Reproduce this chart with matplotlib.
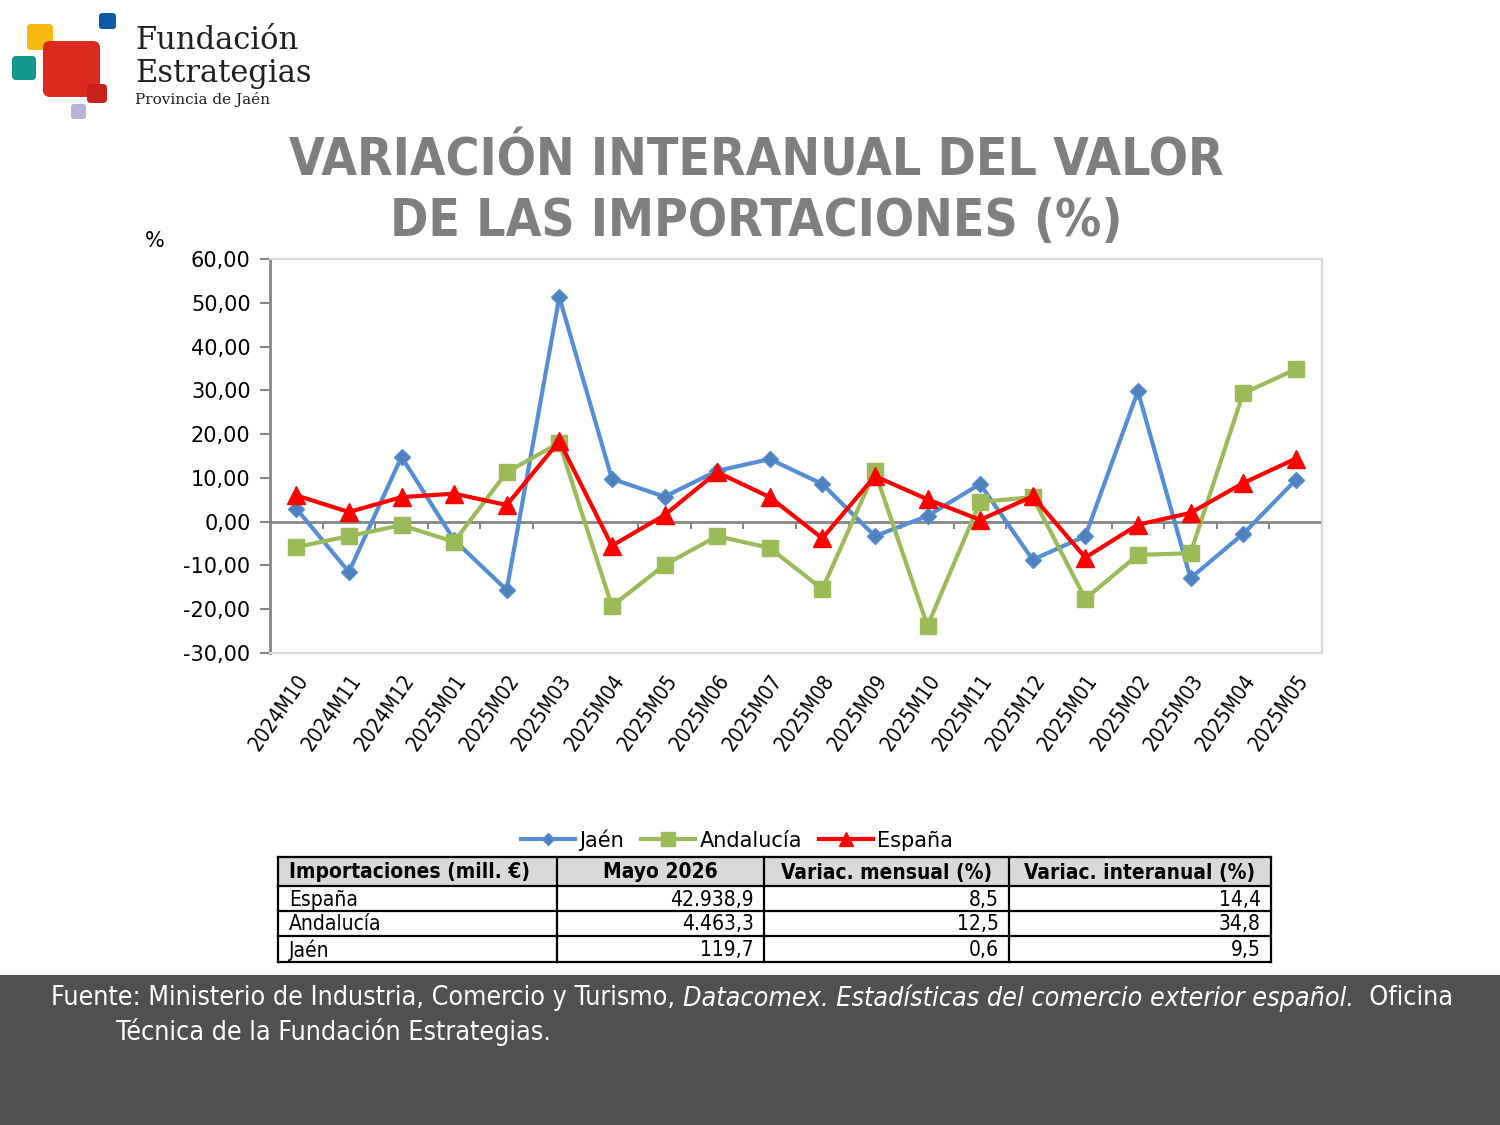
import matplotlib
matplotlib.use('Agg')
import matplotlib.pyplot as plt
from matplotlib.patches import FancyBboxPatch, Rectangle

# datos del grafico
months = ['2024M10', '2024M11', '2024M12', '2025M01', '2025M02', '2025M03', '2025M04',
          '2025M05', '2025M06', '2025M07', '2025M08', '2025M09', '2025M10', '2025M11',
          '2025M12', '2025M01', '2025M02', '2025M03', '2025M04', '2025M05']
jaen = [3.0, -11.5, 14.8, -4.2, -15.6, 51.3, 9.8, 5.7, 11.6, 14.3, 8.6, -3.3, 1.3, 8.6,
        -8.7, -3.3, 29.8, -12.9, -2.8, 9.5]
andalucia = [-5.8, -3.3, -0.8, -4.6, 11.3, 18.0, -19.3, -9.9, -3.3, -6.0, -15.4, 11.5,
             -23.8, 4.5, 5.6, -17.6, -7.6, -7.2, 29.3, 34.8]
espana = [6.0, 2.2, 5.6, 6.4, 3.8, 18.4, -5.5, 1.5, 11.3, 5.6, -3.8, 10.4, 5.1, 0.4,
          5.8, -8.2, -0.7, 2.0, 8.8, 14.4]

yticks = [-30, -20, -10, 0, 10, 20, 30, 40, 50, 60]

# tabla resumen
table_header = ['Importaciones (mill. €)', 'Mayo 2026', 'Variac. mensual (%)', 'Variac. interanual (%)']
table_names = ['España', 'Andalucía', 'Jaén']
table_mayo = ['42.938,9', '4.463,3', '119,7']
table_mensual = ['8,5', '12,5', '0,6']
table_interanual = ['14,4', '34,8', '9,5']

title_lines = ['VARIACIÓN INTERANUAL DEL VALOR', 'DE LAS IMPORTACIONES (%)']
source_parts = [('Fuente: Ministerio de Industria, Comercio y Turismo, ', 'normal'),
                ('Datacomex. Estadísticas del comercio exterior español.', 'italic'),
                ('  Oficina', 'normal')]
source_line2 = 'Técnica de la Fundación Estrategias.'

fig = plt.figure(figsize=(15, 11.25), dpi=100)

# capa de fondo en pixeles
bg = fig.add_axes([0, 0, 1, 1], zorder=0)
bg.set_xlim(0, 1500)
bg.set_ylim(1125, 0)
bg.axis('off')

# logo
def rbox(x0, y0, x1, y1, color, r=5):
    bg.add_patch(FancyBboxPatch((x0, y0), x1 - x0, y1 - y0,
                                boxstyle='round,pad=0,rounding_size=%d' % r,
                                fc=color, ec='none'))

rbox(27, 24, 53, 50, '#f6b90f', 4)
rbox(12, 56, 36, 80, '#13998d', 4)
rbox(43, 41, 100, 97, '#dc2a1f', 7)
rbox(87, 84, 107, 103, '#c9211d', 4)
rbox(99, 13, 116, 29, '#0d5aa7', 3)
rbox(71, 104, 86, 119, '#b9b3d9', 3)
bg.text(135, 49, 'Fundación', family='DejaVu Serif', fontsize=22, color='#231f20', va='baseline')
bg.text(135, 82, 'Estrategias', family='DejaVu Serif', fontsize=22, color='#231f20', va='baseline')
bg.text(135, 104, 'Provincia de Jaén', family='DejaVu Serif', fontsize=11, color='#231f20', va='baseline')

# titulo
bg.text(756, 162, title_lines[0], ha='center', va='center', fontsize=37, weight='bold',
        color='#7f7f7f', fontstretch='condensed')
bg.text(756, 222, title_lines[1], ha='center', va='center', fontsize=37, weight='bold',
        color='#7f7f7f', fontstretch='condensed')
bg.text(155, 241, '%', ha='center', va='center', fontsize=15)

# grafico
ax = fig.add_axes([270 / 1500, 1 - 653 / 1125, 1052 / 1500, 394 / 1125], zorder=2)
x = list(range(len(months)))
ax.plot(x, jaen, color='#558ed5', lw=3, marker='D', ms=8, mfc='#4f81bd', mec='#558ed5',
        label='Jaén', zorder=3)
ax.plot(x, andalucia, color='#9bbb59', lw=3, marker='s', ms=12, label='Andalucía', zorder=4)
ax.plot(x, espana, color='#ff0000', lw=3, marker='^', ms=13, label='España', zorder=5)

ax.set_xlim(-0.5, len(months) - 0.5)
ax.set_ylim(-30, 60)
ax.set_yticks(yticks)
ax.set_yticklabels([('%.2f' % v).replace('.', ',') for v in yticks])
ax.tick_params(axis='y', direction='out', length=7, width=1.5, color='#868686',
               labelsize=15, pad=7)
ax.set_xticks(x)
ax.set_xticklabels(months, rotation=55, ha='right', va='top', rotation_mode='anchor',
                   fontstretch='condensed')
ax.tick_params(axis='x', length=0, labelsize=15, pad=13)

for s in ['top', 'right', 'bottom']:
    ax.spines[s].set_color('#d9d9d9')
    ax.spines[s].set_linewidth(1.5)
ax.spines['left'].set_color('#868686')
ax.spines['left'].set_linewidth(2)

ax.axhline(0, color='#868686', lw=2, zorder=2)
ax.vlines([i - 0.5 for i in range(len(months) + 1)], -1.6, 0, color='#868686', lw=1.5, zorder=2)

leg = fig.legend(loc='center', bbox_to_anchor=(737 / 1500, 1 - 840 / 1125), ncol=3,
                 frameon=False, fontsize=15, handlelength=2.6, columnspacing=0.8,
                 handletextpad=0.2, markerscale=0.8)

# tabla
col_edges = [278, 557, 764, 1009, 1271]
row_edges = [857, 886, 911, 936, 962]
bg.add_patch(Rectangle((col_edges[0], row_edges[0]), col_edges[-1] - col_edges[0],
                       row_edges[1] - row_edges[0], fc='#d9d9d9', ec='none'))
for yy in row_edges:
    bg.plot([col_edges[0], col_edges[-1]], [yy, yy], color='black', lw=1.6)
for xx in col_edges:
    bg.plot([xx, xx], [row_edges[0], row_edges[-1]], color='black', lw=1.6)

for j, h in enumerate(table_header):
    cy = (row_edges[0] + row_edges[1]) / 2 + 1
    if j == 0:
        bg.text(col_edges[0] + 11, cy, h, ha='left', va='center', fontsize=15, weight='bold',
                fontstretch='condensed')
    else:
        bg.text((col_edges[j] + col_edges[j + 1]) / 2, cy, h, ha='center', va='center',
                fontsize=15, weight='bold', fontstretch='condensed')

for i, name in enumerate(table_names):
    cy = (row_edges[i + 1] + row_edges[i + 2]) / 2 + 1
    bg.text(col_edges[0] + 11, cy, name, ha='left', va='center', fontsize=15,
            fontstretch='condensed')
    for j, vals in enumerate([table_mayo, table_mensual, table_interanual]):
        bg.text(col_edges[j + 2] - 10, cy, vals[i], ha='right', va='center', fontsize=15,
                fontstretch='condensed')

# pie con la fuente
bg.add_patch(Rectangle((0, 975), 1500, 150, fc='#505050', ec='none'))
fig.canvas.draw()
renderer = fig.canvas.get_renderer()
xpos = 51
for txt, style in source_parts:
    t = bg.text(xpos, 998, txt, ha='left', va='center', fontsize=19.3, color='white',
                style=style, fontstretch='condensed')
    bb = t.get_window_extent(renderer=renderer)
    xpos = bg.transData.inverted().transform((bb.x1, bb.y0))[0]
bg.text(116, 1032, source_line2, ha='left', va='center', fontsize=19.3, color='white',
        fontstretch='condensed')

fig.savefig('out.png', dpi=100)
